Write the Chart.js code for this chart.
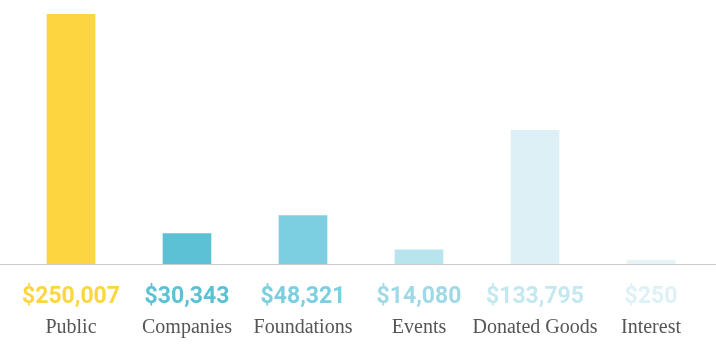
<!DOCTYPE html>
<html>
<head>
<meta charset="utf-8">
<script src="https://cdn.jsdelivr.net/npm/chart.js@4"></script>
<style>
  html, body { margin: 0; padding: 0; background: #fff; }
  #wrap { width: 716px; height: 352px; }
</style>
</head>
<body>
<div id="wrap"><canvas id="chart"></canvas></div>
<script>
const categories = ['Public', 'Companies', 'Foundations', 'Events', 'Donated Goods', 'Interest'];
const amounts = [250007, 30343, 48321, 14080, 133795, 250];
const barColors = ['#fdd541', '#5cc1d5', '#7bcfe0', '#b8e4ed', '#ddf0f5', '#e4f4f7'];
const labelColors = ['#fdd541', '#5cc1d5', '#7bcfe0', '#9fd9e6', '#c4e8f0', '#ddf1f6'];

function money(v) { return '$' + v.toLocaleString('en-US'); }

const labelsPlugin = {
  id: 'underLabels',
  afterDraw(chart) {
    const ctx = chart.ctx, x = chart.scales.x, area = chart.chartArea;
    ctx.save();
    ctx.strokeStyle = '#cccccc'; ctx.lineWidth = 1;
    ctx.beginPath(); ctx.moveTo(0, area.bottom + 0.5); ctx.lineTo(chart.width, area.bottom + 0.5); ctx.stroke();
    ctx.textAlign = 'center'; ctx.textBaseline = 'middle';
    categories.forEach((c, i) => {
      const cx = x.getPixelForValue(i);
      ctx.font = 'bold 23px Roboto';
      ctx.fillStyle = labelColors[i];
      ctx.fillText(money(amounts[i]), cx, area.bottom + 33);
      ctx.font = '20px "Liberation Serif"';
      ctx.fillStyle = '#555555';
      ctx.fillText(c, cx, area.bottom + 64);
    });
    ctx.restore();
  }
};

new Chart(document.getElementById('chart'), {
  type: 'bar',
  data: { labels: categories, datasets: [{ data: amounts, backgroundColor: barColors, barThickness: 48, minBarLength: 4 }] },
  options: {
    responsive: true, maintainAspectRatio: false, animation: false,
    layout: { padding: { top: 14, bottom: 88, left: 13, right: 7 } },
    plugins: { legend: { display: false }, tooltip: { enabled: false } },
    scales: {
      x: { display: false },
      y: { display: false, min: 0, max: 250007 }
    }
  },
  plugins: [labelsPlugin]
});
</script>
</body>
</html>
